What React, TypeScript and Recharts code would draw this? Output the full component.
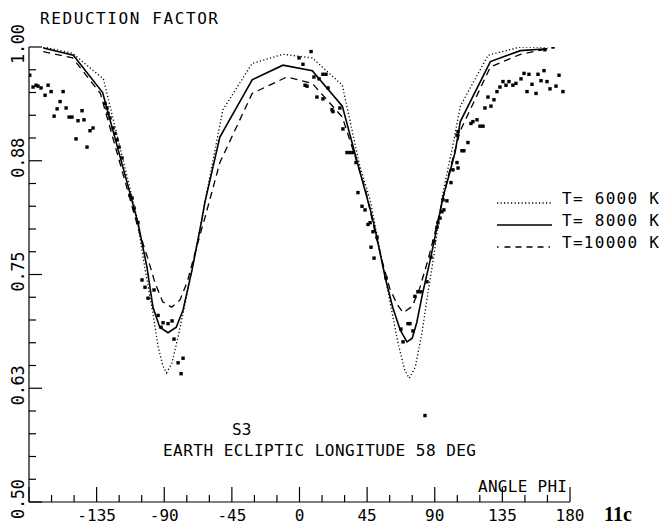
import React from "react";
import { ComposedChart, Line, Scatter, XAxis, YAxis } from "recharts";

// model curves (phi in degrees, reduction factor)
const t6000Phi = [-170.5, -151, -130.5, -108.5, -103, -98, -94, -91, -88.5, -85, -81, -76.5, -71.5, -66, -63, -51, -31.5, -11, 8.5, 28.5, 40, 47, 53.5, 60, 65.5, 70, 73, 77, 81.5, 85.5, 89, 92, 95.5, 99, 101.5, 107, 125.5, 147, 165];
const t6000Val = [1.0, 0.993, 0.965, 0.815, 0.758, 0.712, 0.67, 0.65, 0.642, 0.652, 0.68, 0.715, 0.757, 0.802, 0.829, 0.931, 0.982, 0.992, 0.988, 0.958, 0.87, 0.832, 0.777, 0.722, 0.675, 0.645, 0.636, 0.648, 0.686, 0.73, 0.766, 0.802, 0.84, 0.868, 0.887, 0.935, 0.991, 1.0, 1.0];

const t8000Phi = [-170.5, -150.5, -131, -107.5, -101.5, -97.5, -93, -87.5, -82, -77.5, -71.5, -65, -63, -53, -31.5, -11, 8.5, 28.5, 38.5, 47, 50, 57, 62, 67, 71.5, 75, 78, 82, 87, 91.5, 95.5, 100, 103.5, 107, 127, 147, 165];
const t8000Val = [0.999, 0.991, 0.95, 0.807, 0.758, 0.714, 0.692, 0.686, 0.692, 0.711, 0.755, 0.81, 0.829, 0.901, 0.964, 0.98, 0.974, 0.935, 0.873, 0.822, 0.802, 0.747, 0.714, 0.689, 0.676, 0.68, 0.697, 0.73, 0.766, 0.802, 0.835, 0.862, 0.884, 0.918, 0.984, 0.996, 0.998];

const t10000Phi = [-170.5, -151, -132.5, -106.5, -101, -96, -91, -85, -79.5, -74.5, -69, -63, -53, -31.5, -8.5, 8.5, 28.5, 36, 44, 49, 55, 60, 65, 69, 75, 80, 85.5, 90, 95, 100, 107, 127, 147, 165];
const t10000Val = [0.995, 0.988, 0.949, 0.796, 0.768, 0.74, 0.72, 0.714, 0.722, 0.743, 0.777, 0.812, 0.873, 0.949, 0.967, 0.96, 0.923, 0.885, 0.843, 0.805, 0.765, 0.735, 0.717, 0.708, 0.715, 0.735, 0.766, 0.795, 0.83, 0.865, 0.908, 0.978, 0.992, 0.998];

// measured points (S3)
const obsPhi = [
  -179.5, -177.3, -175.3, -174, -172, -169.3, -167.3, -165.3, -163.3, -161.3, -159.3, -157.3, -155.3, -153.3, -151.4, -148.7, -147.4, -144.7, -143.4, -141.4, -139.4, -137.4,
  -129.4, -128.1, -127.4, -126.1, -124.1, -122.8, -121.4, -120.1, -118.1, -112.8, -111.4, -110.1, -107.5, -104.8, -102.8, -100.8, -96.8, -94.1, -92.1, -90.8, -87.5, -84.8, -83.5, -80.8, -78.8, -77.5,
  -0.3, 2.3, 3.7, 5, 7.7, 9.6, 11.6, 13, 15.6, 15.6, 17.6, 19, 21.6, 22.3, 26.9, 28.9, 31.6, 33.6, 35.6, 37.6, 38.9, 41.6, 43.6, 45.6, 48.9, 51.6,
  47.6, 49.6, 47, 57.6, 67.5, 68.9, 72.2, 73.5, 75.5, 76.8, 78.8, 80.8, 83.5, 84.8, 87.5, 89.5, 91.5, 92.1, 93.5, 94.8, 95.5, 96.1, 98.1, 100.8, 102.1, 104.8, 105.5,
  104.8, 105.5, 108.1, 109.4, 112.1, 114.1, 115.4, 118.1, 120.1, 122.1, 123.4, 125.4, 127.4, 129.4, 131.4, 133.4, 135.4, 137.4, 139.4, 142, 144, 147.4, 149.4, 151.4, 152.7, 154.7, 157.4, 158.7, 160.7, 162.7, 163.3, 164.7, 166.7, 168.7, 170.7, 172.7, 175.3,
];
const obsVal = [
  0.969, 0.956, 0.958, 0.957, 0.955, 0.947, 0.958, 0.951, 0.924, 0.932, 0.94, 0.951, 0.933, 0.923, 0.923, 0.899, 0.919, 0.93, 0.92, 0.89, 0.908, 0.911,
  0.938, 0.933, 0.927, 0.922, 0.911, 0.905, 0.898, 0.89, 0.878, 0.837, 0.834, 0.823, 0.807, 0.744, 0.736, 0.724, 0.733, 0.705, 0.692, 0.697, 0.696, 0.699, 0.679, 0.653, 0.641, 0.658,
  0.988, 0.981, 0.958, 0.957, 0.995, 0.967, 0.945, 0.965, 0.97, 0.943, 0.97, 0.955, 0.931, 0.929, 0.933, 0.91, 0.884, 0.884, 0.884, 0.873, 0.84, 0.825, 0.821, 0.805, 0.797, 0.791,
  0.78, 0.768, 0.807, 0.746, 0.69, 0.676, 0.696, 0.696, 0.688, 0.726, 0.731, 0.731, 0.595, 0.742, 0.769, 0.786, 0.802, 0.807, 0.812, 0.819, 0.832, 0.821, 0.831, 0.851, 0.865, 0.873, 0.867,
  0.903, 0.907, 0.886, 0.886, 0.895, 0.916, 0.918, 0.92, 0.913, 0.913, 0.933, 0.945, 0.935, 0.942, 0.951, 0.956, 0.962, 0.958, 0.962, 0.958, 0.96, 0.965, 0.971, 0.951, 0.97, 0.959, 0.949, 0.97, 0.963, 0.974, 0.997, 0.962, 0.954, 1.0, 0.957, 0.969, 0.951,
];

const xTicks = [-180, -165, -150, -135, -120, -105, -90, -75, -60, -45, -30, -15, 0, 15, 30, 45, 60, 75, 90, 105, 120, 135, 150, 165, 180];
const xLabelTicks = [-135, -90, -45, 0, 45, 90, 135, 180];
const yMajor = [0.5, 0.625, 0.75, 0.875, 1.0];
const yMajorLabels = ["0.50", "0.63", "0.75", "0.88", "1.00"];
const yTicks = [0.5, 0.525, 0.55, 0.575, 0.6, 0.625, 0.65, 0.675, 0.7, 0.725, 0.75, 0.775, 0.8, 0.825, 0.85, 0.875, 0.9, 0.925, 0.95, 0.975, 1.0];

const legendLabels = ["T= 6000 K", "T= 8000 K", "T=10000 K"];

const FONT = "'DejaVu Sans Mono', 'Liberation Mono', monospace";

const toRows = (phi: number[], val: number[]) => phi.map((p, i) => ({ phi: p, v: val[i] }));

const curve6000 = toRows(t6000Phi, t6000Val);
const curve8000 = toRows(t8000Phi, t8000Val);
const curve10000 = toRows(t10000Phi, t10000Val);
const observed = toRows(obsPhi, obsVal);

const XTick = ({ x, y, payload }: any) => {
  const v = payload.value;
  const major = v % 45 === 0;
  const len = major ? 15 : 7;
  const showLabel = xLabelTicks.includes(v);
  return (
    <g>
      <line x1={x} y1={y} x2={x} y2={y - len} stroke="#000" strokeWidth={1.2} />
      {showLabel && (
        <text x={x} y={y + 19} textAnchor="middle" fontFamily={FONT} fontSize={16} fill="#000">
          {v}
        </text>
      )}
    </g>
  );
};

const YTick = ({ x, y, payload }: any) => {
  const v = payload.value;
  const idx = yMajor.findIndex((m) => Math.abs(m - v) < 1e-6);
  const len = idx >= 0 ? 13 : 7;
  const lx = x - 5;
  const ly = y - 3;
  return (
    <g>
      <line x1={x} y1={y} x2={x + len} y2={y} stroke="#000" strokeWidth={1.2} />
      {idx >= 0 && (
        <text
          x={lx}
          y={ly}
          transform={`rotate(-90 ${lx} ${ly})`}
          textAnchor="middle"
          fontFamily={FONT}
          fontSize={17}
          textLength={40}
          lengthAdjust="spacing"
          fill="#000"
        >
          {yMajorLabels[idx]}
        </text>
      )}
    </g>
  );
};

const Square = ({ cx, cy }: any) => (
  <rect x={cx - 1.7} y={cy - 1.7} width={3.4} height={3.4} fill="#000" />
);

const legendDash = ["1.2 2.3", undefined, "1.5 6 6 5 6 5 6 5 6 5"];

export default function App() {
  return (
    <div style={{ position: "absolute", left: 0, top: 0, width: 664, height: 527, background: "#fff" }}>
      <ComposedChart width={664} height={527} margin={{ top: 47, right: 94, bottom: 0, left: 0 }}>
        <XAxis
          type="number"
          dataKey="phi"
          domain={[-180, 180]}
          allowDataOverflow
          ticks={xTicks}
          interval={0}
          tickSize={0}
          tickMargin={0}
          tickLine={false}
          tick={(p: any) => <XTick {...p} />}
          axisLine={{ stroke: "#000", strokeWidth: 1.2 }}
          height={25}
        />
        <YAxis
          type="number"
          domain={[0.5, 1.0]}
          allowDataOverflow
          ticks={yTicks}
          interval={0}
          tickSize={0}
          tickMargin={0}
          tickLine={false}
          tick={(p: any) => <YTick {...p} />}
          axisLine={{ stroke: "#000", strokeWidth: 1.2 }}
          width={29}
        />
        <Line data={curve6000} dataKey="v" type="linear" stroke="#000" strokeWidth={1.3} strokeDasharray="1.2 2.3" dot={false} activeDot={false} isAnimationActive={false} />
        <Line data={curve8000} dataKey="v" type="linear" stroke="#000" strokeWidth={1.6} dot={false} activeDot={false} isAnimationActive={false} />
        <Line data={curve10000} dataKey="v" type="linear" stroke="#000" strokeWidth={1.3} strokeDasharray="7 5" dot={false} activeDot={false} isAnimationActive={false} />
        <Scatter data={observed} dataKey="v" shape={<Square />} isAnimationActive={false} />
      </ComposedChart>

      <svg width={664} height={527} style={{ position: "absolute", left: 0, top: 0, pointerEvents: "none" }}>
        <text x={40} y={24} fontFamily={FONT} fontSize={16} textLength={178} lengthAdjust="spacing">
          REDUCTION FACTOR
        </text>
        {legendLabels.map((lab, i) => {
          const yb = 204 + i * 22;
          return (
            <g key={lab}>
              <line x1={497} y1={yb - 1} x2={552} y2={yb - 1} stroke="#000" strokeWidth={i === 1 ? 1.6 : 1.3} strokeDasharray={legendDash[i]} />
              <text x={562} y={yb} fontFamily={FONT} fontSize={16} textLength={97} lengthAdjust="spacing">
                {lab}
              </text>
            </g>
          );
        })}
        <text x={232} y={435} fontFamily={FONT} fontSize={16}>
          S3
        </text>
        <text x={163} y={456} fontFamily={FONT} fontSize={16} textLength={313} lengthAdjust="spacing">
          EARTH ECLIPTIC LONGITUDE 58 DEG
        </text>
        <text x={478} y={492} fontFamily={FONT} fontSize={16} textLength={89} lengthAdjust="spacing">
          ANGLE PHI
        </text>
        <text x={604} y={521} fontFamily="'Liberation Serif', 'Times New Roman', serif" fontWeight="bold" fontSize={20}>
          11c
        </text>
      </svg>
    </div>
  );
}
